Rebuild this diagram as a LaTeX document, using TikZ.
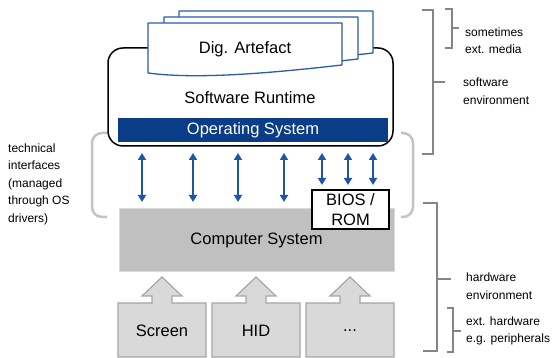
\documentclass[tikz,border=0pt]{standalone}
\usepackage{fontspec}
\setmainfont{Liberation Sans}
\usetikzlibrary{arrows.meta}
\definecolor{osblue}{HTML}{0A3C87}
\definecolor{arrowblue}{HTML}{1F56A3}
\definecolor{pageblue}{HTML}{2A5CA8}
\definecolor{bracketgrey}{HTML}{C3C3C3}
\definecolor{bracegrey}{HTML}{858585}
\definecolor{csfill}{HTML}{C0C0C0}
\definecolor{csline}{HTML}{DADADA}
\definecolor{periphfill}{HTML}{D9D9D9}
\definecolor{periphline}{HTML}{A6A6A6}
\newcommand\periphpath[1]{%
  (#1-44,357) -- (#1-44,303) -- (#1-10,303) -- (#1-10,296) -- (#1-20,296) -- (#1,277)
  -- (#1+20,296) -- (#1+10,296) -- (#1+10,303) -- (#1+44,303) -- (#1+44,357) -- cycle}
\newcommand\pagepath{%
  (148,73) -- (148,23) -- (342,23) -- (342,65) .. controls (280,72) and (200,80) .. (148,73) -- cycle}
\begin{document}
\begin{tikzpicture}[x=1pt,y=-1pt,
  big/.style={font=\fontsize{16.5}{20}\selectfont, inner sep=0},
  small/.style={font=\fontsize{12}{17.5}\selectfont, inner sep=0, align=left, anchor=west},
  ifarrow/.style={draw=arrowblue, line width=2.4pt, {Triangle[length=7pt,width=8pt]}-{Triangle[length=7pt,width=8pt]}},
  brace/.style={draw=bracegrey, line width=1.4pt, line cap=butt},
  bracket/.style={draw=bracketgrey, line width=2.5pt, rounded corners=10pt},
  pagebox/.style={draw=pageblue, fill=white, line width=1.3pt, line join=round},
  periph/.style={draw=periphline, fill=periphfill, line width=1.2pt}]
\useasboundingbox (0,0) rectangle (552,358);

% grey bracket for technical interfaces
\draw[bracket] (107,133) -- (92,133) -- (92,217) -- (107,217);
\draw[bracket] (401,133) -- (413,133) -- (413,217) -- (401,217);

% software runtime
\node[draw=black, line width=1.5pt, rounded corners=15pt, minimum width=285pt, minimum height=98pt, inner sep=0] (sr) at (250.5,97) {};
\node[big] (srlab) at (250,98) {Software Runtime};
\node[fill=osblue, minimum width=270pt, minimum height=24pt, inner sep=0, text=white, font=\fontsize{16.5}{20}\selectfont] (os) at (253,130) {Operating System};

% digital artefacts
\begin{scope}[shift={(31,-12)}]
  \path[pagebox] \pagepath;
\end{scope}
\begin{scope}[shift={(16,-6)}]
  \path[pagebox] \pagepath;
\end{scope}
\path[pagebox] \pagepath;
\node[big] (art) at (245,49) {Dig. Artefact};

% computer system
\node[draw=csline, fill=csfill, line width=1pt, minimum width=275pt, minimum height=63pt, inner sep=0, font=\fontsize{16.5}{20}\selectfont] (cs) at (256.5,240.5) {Computer System};
\node[draw=black, fill=white, line width=1.2pt, minimum width=77pt, minimum height=39pt, inner sep=0, align=center, font=\fontsize{16.5}{20}\selectfont] (bios) at (350.5,209.5) {BIOS /\\ROM};

% interface arrows
\foreach \i/\xx/\yb in {1/142/202,2/193/202,3/238/202,4/284/202,5/322/185,6/348/185,7/373/185}{
  \coordinate (t\i) at (\xx,153);
  \coordinate (b\i) at (\xx,\yb);
  \draw[ifarrow] (t\i) -- (b\i);
}

% peripherals
\path[periph] \periphpath{162};
\path[periph] \periphpath{256};
\path[periph] \periphpath{350};
\node[big] (scr) at (162,331) {Screen};
\node[big] (hid) at (256,331) {HID};
\node[big] (etc) at (350,331) {...};

% left label
\node[small] (tech) at (8,184) {technical\\interfaces\\(managed\\through OS\\drivers)};

% right braces
\draw[brace] (445,9) -- (452,9) -- (452,48) -- (445,48);
\draw[brace] (452,28) -- (459,28);
\draw[brace] (422,10) -- (433,10) -- (433,154) -- (422,154);
\draw[brace] (433,82) -- (445,82);
\draw[brace] (423,203) -- (437,203) -- (437,351) -- (423,351);
\draw[brace] (437,279) -- (451,279);
\draw[brace] (447,308) -- (453,308) -- (453,352) -- (447,352);
\draw[brace] (453,331) -- (461,331);

\node[small] (media) at (465,40.5) {sometimes\\ext. media};
\node[small] (swenv) at (463,91) {software\\environment};
\node[small] (hwenv) at (466,286) {hardware\\environment};
\node[small] (exthw) at (466,331) {ext. hardware\\e.g. peripherals};
\end{tikzpicture}
\end{document}
